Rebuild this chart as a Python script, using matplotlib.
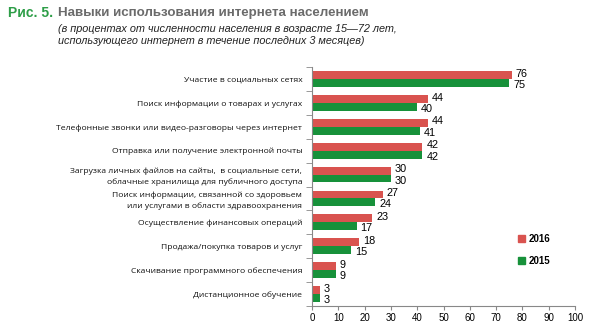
import numpy as np
import matplotlib
matplotlib.use('Agg')
import matplotlib.pyplot as plt
from matplotlib.patches import Patch

# Data
categories = [
    'Участие в социальных сетях',
    'Поиск информации о товарах и услугах',
    'Телефонные звонки или видео-разговоры через интернет',
    'Отправка или получение электронной почты',
    'Загрузка личных файлов на сайты,  в социальные сети,\nоблачные хранилища для публичного доступа',
    'Поиск информации, связанной со здоровьем\nили услугами в области здравоохранения',
    'Осуществление финансовых операций',
    'Продажа/покупка товаров и услуг',
    'Скачивание программного обеспечения',
    'Дистанционное обучение',
]
values_2016 = [76, 44, 44, 42, 30, 27, 23, 18, 9, 3]
values_2015 = [75, 40, 41, 42, 30, 24, 17, 15, 9, 3]

red = '#d9534f'
green = '#17913a'

plt.rcParams['font.family'] = ['Open Sans', 'DejaVu Sans']

fig = plt.figure(figsize=(5.9, 3.35), dpi=100)
ax = fig.add_axes([312 / 590, 29 / 335, 263 / 590, 239 / 335])

y = np.arange(len(categories))
h = 0.33
ax.barh(y - h / 2, values_2016, height=h, color=red, label='2016')
ax.barh(y + h / 2, values_2015, height=h, color=green, label='2015')

# Value labels
for i in range(len(categories)):
    ax.text(values_2016[i] + 1.5, y[i] - 0.22, str(values_2016[i]),
            fontsize=7.8, va='center', ha='left', family='Liberation Sans')
    ax.text(values_2015[i] + 1.5, y[i] + 0.25, str(values_2015[i]),
            fontsize=7.8, va='center', ha='left', family='Liberation Sans')

ax.set_xlim(0, 100)
ax.set_ylim(len(categories) - 0.5, -0.5)
ax.set_xticks(np.arange(0, 101, 10))
ax.tick_params(axis='x', labelsize=7, length=3, color='#888888', pad=2)
for lbl in ax.get_xticklabels():
    lbl.set_family('Liberation Sans')

ax.set_yticks(y)
ax.set_yticklabels(categories, fontsize=6.1, linespacing=1.5, color='#111111',
                   fontweight='medium')
ax.tick_params(axis='y', length=0, pad=7)
ax.set_yticks(np.arange(-0.5, len(categories), 1), minor=True)
ax.tick_params(axis='y', which='minor', length=4, color='#888888')

for s in ['top', 'right']:
    ax.spines[s].set_visible(False)
for s in ['left', 'bottom']:
    ax.spines[s].set_color('#888888')

handles = [Patch(color=red, label='2016'), Patch(color=green, label='2015')]
leg = ax.legend(handles=handles, loc='center left', bbox_to_anchor=(0.75, 0.235),
                frameon=False, handlelength=0.7, handleheight=0.7,
                handletextpad=0.4, labelspacing=1.2,
                prop={'size': 7, 'weight': 'bold', 'family': 'Liberation Sans'})

# Titles
fig.text(8 / 590, 1 - 13 / 335, 'Рис. 5.', color='#2e9e48', fontsize=10,
         fontweight='bold', va='center', family='Liberation Sans')
fig.text(58 / 590, 1 - 13 / 335, 'Навыки использования интернета населением',
         color='#6b6b6b', fontsize=9.6, fontweight='bold', va='center',
         family='Liberation Sans')
fig.text(58 / 590, 1 - 29 / 335, '(в процентах от численности населения в возрасте 15—72 лет,',
         color='#222222', fontsize=7.8, style='italic', va='center', family='Liberation Sans')
fig.text(58 / 590, 1 - 41 / 335, 'использующего интернет в течение последних 3 месяцев)',
         color='#222222', fontsize=7.8, style='italic', va='center', family='Liberation Sans')

fig.savefig('out.png', dpi=100)
